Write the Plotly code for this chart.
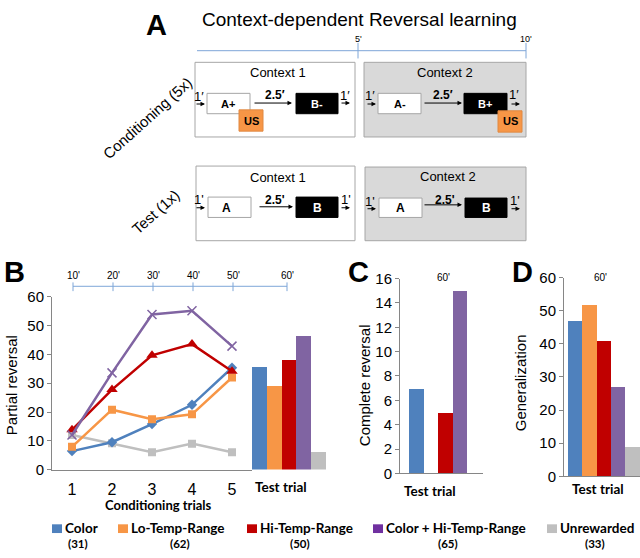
import plotly.graph_objects as go

# ---- data ----
groups = ["Color", "Lo-Temp-Range", "Hi-Temp-Range", "Color + Hi-Temp-Range", "Unrewarded"]
group_n = ["(31)", "(62)", "(50)", "(65)", "(33)"]
trials = [1, 2, 3, 4, 5]

partial_color = [6.4, 9.5, 15.8, 22.5, 35.4]
partial_lo = [7.9, 20.8, 17.5, 19.2, 32.0]
partial_hi = [13.8, 27.8, 39.7, 43.6, 34.2]
partial_combo = [12.0, 33.6, 53.9, 55.2, 42.9]
partial_unrew = [12.0, 9.1, 6.0, 9.0, 6.0]

test_partial = [35.7, 29.2, 38.2, 46.3, 6.2]
test_complete = [7, 0, 5, 15, 0]
test_general = [47, 52, 41, 27, 9]

timeline_b = ["10'", "20'", "30'", "40'", "50'", "60'"]

# ---- style ----
W, H = 640, 558
BAR_COLORS = ["#4f81bd", "#f79646", "#c00000", "#8064a2", "#bfbfbf"]
LEG_COLORS = ["#4f81bd", "#f79646", "#c00000", "#7030a0", "#bfbfbf"]
AXC = "#868686"
TLC = "#7ea6d8"
FONT = "Liberation Sans, Arial, sans-serif"
NARROW = "Lato, Liberation Sans, Arial, sans-serif"


def X(p):
    return p / W


def Y(p):
    return 1 - p / H


shapes = []
annotations = []


def rect(x0, y0, x1, y1, fill, line="#a6a6a6", lw=1):
    shapes.append(dict(type="rect", xref="paper", yref="paper",
                       x0=X(x0), x1=X(x1), y0=Y(y1), y1=Y(y0),
                       fillcolor=fill, line=dict(color=line, width=lw)))


def seg(x0, y0, x1, y1, color, lw=1):
    shapes.append(dict(type="line", xref="paper", yref="paper",
                       x0=X(x0), x1=X(x1), y0=Y(y0), y1=Y(y1),
                       line=dict(color=color, width=lw)))


def text(x, y, s, size, bold=False, color="black", family=FONT, angle=0, xanchor="center"):
    if bold:
        s = "<b>" + s + "</b>"
    annotations.append(dict(xref="paper", yref="paper", x=X(x), y=Y(y), text=s,
                            showarrow=False, xanchor=xanchor, yanchor="middle",
                            textangle=angle, font=dict(size=size, color=color, family=family)))


def arrow(x0, y0, x1, y1):
    annotations.append(dict(xref="paper", yref="paper", x=X(x1), y=Y(y1), text="",
                            showarrow=True, axref="pixel", ayref="pixel",
                            ax=x0 - x1, ay=y0 - y1, arrowhead=2, arrowsize=0.9,
                            arrowwidth=1, arrowcolor="black"))


# =============================
# Panel A (schematic)
# =============================
text(156, 17, "A", 29, bold=True)
text(359, 11, "Context-dependent Reversal learning", 19)
seg(197, 43, 526, 43, TLC)
seg(358, 35, 358, 51, TLC)
seg(526, 35, 526, 51, TLC)
text(358, 31, "5'", 9)
text(526, 31, "10'", 9)

text(147, 113, "Conditioning (5x)", 15, angle=-42)
text(156, 209, "Test (1x)", 15, angle=-42)

# conditioning row
rect(195, 55, 355, 132, "white")
rect(364, 55, 526, 132, "#d9d9d9")
text(278, 66, "Context 1", 13)
text(445, 66, "Context 2", 13)
rect(207, 87, 250, 108, "white")
rect(296, 87, 338, 108, "black", line="black")
rect(239, 104, 263, 126, "#f79646", line="#e08840")
rect(378, 87, 421, 108, "white")
rect(464, 87, 507, 108, "black", line="black")
rect(498, 105, 522, 127, "#f79646", line="#e08840")
text(228, 98, "A+", 11, bold=True)
text(317, 98, "B-", 11, bold=True, color="white")
text(251, 116, "US", 11, bold=True)
text(400, 98, "A-", 11, bold=True)
text(485, 98, "B+", 11, bold=True, color="white")
text(510, 116, "US", 11, bold=True)
for x0, x1, y in [(195, 205, 98), (253, 292, 97), (340, 350, 97),
                  (366, 376, 98), (423, 462, 97), (510, 520, 98)]:
    arrow(x0, y, x1, y)
for x, y in [(199, 90), (345, 89), (370, 89), (514, 88)]:
    text(x, y, "1\u2032", 13)
text(275, 89, "2.5\u2032", 12, bold=True)
text(443, 89, "2.5\u2032", 12, bold=True)

# test row
rect(196, 162, 355, 239, "white")
rect(365, 163, 526, 239, "#d9d9d9")
text(278, 174, "Context 1", 13)
text(448, 173, "Context 2", 13)
rect(208, 194, 251, 215, "white")
rect(296, 194, 338, 215, "black", line="black")
rect(379, 195, 422, 215, "white")
rect(465, 195, 507, 215, "black", line="black")
text(226, 205, "A", 12, bold=True)
text(317, 205, "B", 12, bold=True, color="white")
text(400, 205, "A", 12, bold=True)
text(486, 205, "B", 12, bold=True, color="white")
for x0, x1, y in [(195, 205, 205), (258, 293, 204), (340, 350, 205),
                  (366, 376, 206), (423, 462, 202), (510, 520, 206)]:
    arrow(x0, y, x1, y)
for x, y in [(199, 197), (346, 197), (370, 199), (515, 198)]:
    text(x, y, "1'", 13)
text(275, 197, "2.5'", 12, bold=True)
text(445, 197, "2.5'", 12, bold=True)

# =============================
# Panel B / C / D
# =============================
text(14, 271, "B", 29, bold=True)
text(358, 271, "C", 29, bold=True)
text(522, 271, "D", 29, bold=True)

# timeline above B (ticks line up with the trial positions, 60' with the test bars)
tl_px = [73, 113, 153, 193, 233, 287]
seg(tl_px[0], 286, tl_px[-1], 286, TLC)
for xp, lab in zip(tl_px, timeline_b):
    seg(xp, 282, xp, 291, TLC)
    text(xp, 275, lab, 10)
text(443, 277, "60'", 10)
text(600, 277, "60'", 10)

text(11, 388, "Partial reversal", 15, angle=-90)
text(364, 388, "Complete reversal", 15, angle=-90)
text(520, 386, "Generalization", 15, angle=-90)
text(158, 512, "Conditioning trials", 13, bold=True, family=NARROW)
text(281, 493, "Test trial", 13.5, bold=True, family=NARROW)
text(430, 497, "Test trial", 13.5, bold=True, family=NARROW)
text(598, 495, "Test trial", 13.5, bold=True, family=NARROW)

# legend
leg_x = [52, 118, 247, 373, 547]
leg_n_x = [78, 180, 300, 448, 595]
for lx, nx, name, n, c in zip(leg_x, leg_n_x, groups, group_n, LEG_COLORS):
    rect(lx, 531.5, lx + 10, 540.5, c, line=c, lw=0)
    text(lx + 11, 535.5, name, 13.5, bold=True, family=NARROW, xanchor="left")
    text(nx, 551.5, n, 11.5, bold=True, family=NARROW)

fig = go.Figure()

series = [
    (partial_unrew, BAR_COLORS[4], "square", 8),
    (partial_color, BAR_COLORS[0], "diamond", 8),
    (partial_lo, BAR_COLORS[1], "square", 8),
    (partial_hi, BAR_COLORS[2], "triangle-up", 10),
]
for vals, c, sym, sz in series:
    fig.add_trace(go.Scatter(x=trials, y=vals, mode="lines+markers",
                             line=dict(color=c, width=2.5),
                             marker=dict(symbol=sym, size=sz, color=c),
                             xaxis="x", yaxis="y", showlegend=False))
fig.add_trace(go.Scatter(x=trials, y=partial_combo, mode="lines+markers",
                         line=dict(color=BAR_COLORS[3], width=2.5),
                         marker=dict(symbol="x-thin", size=9, line=dict(color=BAR_COLORS[3], width=1.5)),
                         xaxis="x", yaxis="y", showlegend=False))

pos = [0, 1, 2, 3, 4]
for vals, xa, ya in [(test_partial, "x2", "y2"), (test_complete, "x3", "y3"), (test_general, "x4", "y4")]:
    fig.add_trace(go.Bar(x=pos, y=vals, width=1, marker=dict(color=BAR_COLORS, line=dict(width=0)),
                         xaxis=xa, yaxis=ya, showlegend=False))

ytick = dict(showline=True, linecolor=AXC, linewidth=1, ticks="outside", ticklen=4,
             tickcolor=AXC, showgrid=False, zeroline=False,
             tickfont=dict(size=15, family=FONT, color="black"))
xbase = dict(showline=True, linecolor=AXC, linewidth=1, showgrid=False, zeroline=False)

fig.update_layout(
    width=W, height=H, margin=dict(l=0, r=0, t=0, b=0),
    paper_bgcolor="white", plot_bgcolor="rgba(0,0,0,0)",
    bargap=0, showlegend=False,
    xaxis=dict(domain=[X(52), X(252)], range=[0.5, 5.5], tickvals=trials, anchor="y",
               ticks="outside", ticklen=5, tickcolor="rgba(0,0,0,0)",
               tickfont=dict(size=16, family=FONT, color="black"), **xbase),
    yaxis=dict(domain=[Y(475), Y(297)], range=[0, 60], dtick=10, anchor="x", **ytick),
    xaxis2=dict(domain=[X(252), X(326)], range=[-0.5, 4.5], visible=False, anchor="y2"),
    yaxis2=dict(domain=[Y(475), Y(297)], range=[0, 60], visible=False, anchor="x2"),
    xaxis3=dict(domain=[X(400), X(483)], range=[-1.14, 4.59], showticklabels=False, anchor="y3", **xbase),
    yaxis3=dict(domain=[Y(479), Y(278)], range=[0, 16], dtick=2, anchor="x3", **ytick),
    xaxis4=dict(domain=[X(564), X(640)], range=[-0.76, 4.51], showticklabels=False, anchor="y4", **xbase),
    yaxis4=dict(domain=[Y(482), Y(277)], range=[0, 60], dtick=10, anchor="x4", **ytick),
    shapes=shapes, annotations=annotations,
)

fig.write_html("out.html", config={"displayModeBar": False},
               post_script="document.body.style.margin = '0';")
